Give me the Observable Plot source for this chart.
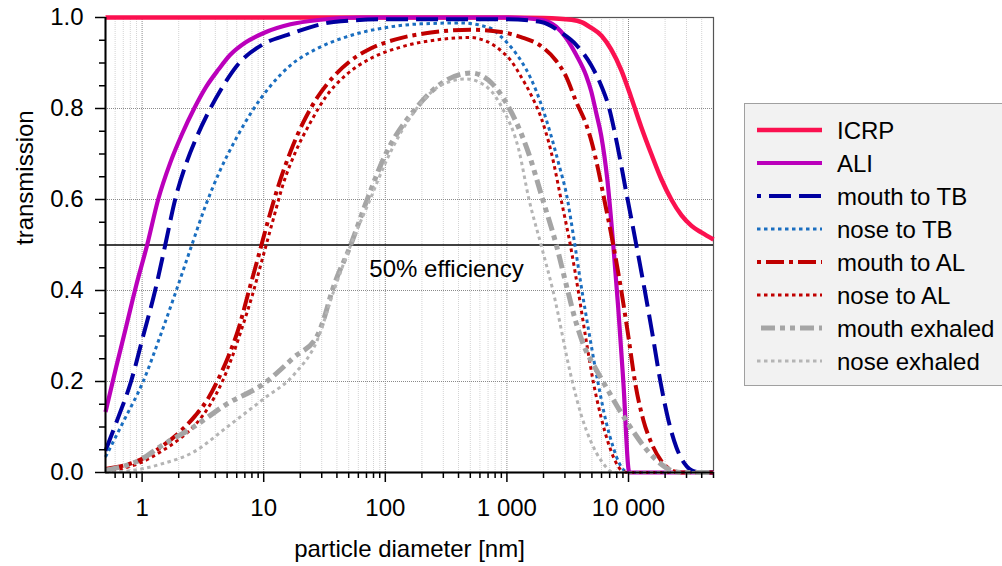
<!DOCTYPE html>
<html><head><meta charset="utf-8">
<script src="https://cdn.jsdelivr.net/npm/d3@7"></script>
<script src="https://cdn.jsdelivr.net/npm/@observablehq/plot@0.6"></script>
<style>
html,body{margin:0;padding:0;background:#fff;overflow:hidden;}
#wrap{position:relative;width:1002px;height:566px;font-family:"Liberation Sans",Arial,sans-serif;}
#legend{position:absolute;left:744px;top:103px;width:290px;height:283px;background:#f2f2f2;border:1px solid #a0a0a0;box-sizing:border-box;}
</style></head><body><div id="wrap"><div id="legend"></div></div>
<script>
// ---- data ----
const xDomain = [0.5, 50000];
const yDomain = [0, 1];
const xTickValues = [1, 10, 100, 1000, 10000];
const xTickLabels = ["1", "10", "100", "1 000", "10 000"];
const xMinorTicks = [0.6, 0.7, 0.8, 0.9, 2, 3, 4, 5, 6, 7, 8, 9, 20, 30, 40, 50, 60, 70, 80, 90,
  200, 300, 400, 500, 600, 700, 800, 900, 2000, 3000, 4000, 5000, 6000, 7000, 8000, 9000,
  20000, 30000, 40000, 50000];
const yTickValues = [0, 0.2, 0.4, 0.6, 0.8, 1.0];
const yTickLabels = ["0.0", "0.2", "0.4", "0.6", "0.8", "1.0"];
const yMinorTicks = [0.05, 0.1, 0.15, 0.25, 0.3, 0.35, 0.45, 0.5, 0.55, 0.65, 0.7, 0.75, 0.85, 0.9, 0.95];
const yGridValues = [0.2, 0.4, 0.6, 0.8];
const efficiencyLevel = [0.5];
const efficiencyLabel = "50% efficiency";
const xTitle = "particle diameter [nm]";
const yTitle = "transmission";

const seriesNames = ["ICRP", "ALI", "mouth to TB", "nose to TB", "mouth to AL", "nose to AL", "mouth exhaled", "nose exhaled"];

const icrpD = [0.5, 100, 1000, 2000, 3400, 4100, 4900, 6000, 7200, 8700, 10500, 12700, 15400, 18600, 22500, 27300, 33000, 40000, 50000];
const icrpT = [1, 1, 1, 0.999, 0.995, 0.99, 0.978, 0.96, 0.93, 0.885, 0.825, 0.76, 0.70, 0.645, 0.60, 0.565, 0.542, 0.527, 0.512];

const aliD = [0.5, 0.61, 0.738, 0.892, 1.1, 1.355, 1.7, 2.14, 2.68, 3.37, 4.23, 5.31, 7.07, 10, 16.6, 29.3, 62.7, 100, 1000,
  1910, 2540, 3070, 3712, 4488, 4935, 5428, 5968, 6688, 7494, 8241, 9064, 10153, 50000];
const aliT = [0.133, 0.23, 0.32, 0.41, 0.5, 0.6, 0.68, 0.745, 0.8, 0.848, 0.885, 0.918, 0.945, 0.966, 0.985, 0.995, 1, 1, 1,
  0.995, 0.98, 0.955, 0.918, 0.872, 0.838, 0.79, 0.74, 0.645, 0.5, 0.36, 0.2, 0, 0];

const mouthTBD = [0.5, 0.634, 0.811, 1.02, 1.28, 1.55, 1.87, 2.31, 2.84, 3.64, 4.65, 6.07, 10, 15.7, 37.5, 100, 1000,
  1910, 2790, 3712, 4935, 5968, 6945, 8084, 9593, 11596, 13500, 15715, 18290, 21290, 24780, 28850, 34210, 39830, 50000];
const mouthTBT = [0.048, 0.12, 0.2, 0.3, 0.4, 0.5, 0.6, 0.68, 0.74, 0.8, 0.85, 0.895, 0.942, 0.962, 0.99, 0.996, 0.996,
  0.99, 0.967, 0.94, 0.895, 0.85, 0.8, 0.72, 0.615, 0.5, 0.405, 0.305, 0.2, 0.115, 0.055, 0.02, 0.003, 0, 0];

const noseTBD = [0.5, 0.711, 1.02, 1.41, 1.91, 2.49, 3.31, 4.40, 5.96, 8.07, 11.4, 16.6, 26.7, 47.2, 91.7, 196, 418,
  739, 894, 1081, 1307, 1580, 1910, 2310, 2689, 3070, 3574, 4083, 4752, 5636, 6561, 7494, 8400, 9410, 10546, 50000];
const noseTBT = [0.034, 0.115, 0.2, 0.3, 0.4, 0.49, 0.585, 0.665, 0.735, 0.795, 0.85, 0.895, 0.93, 0.957, 0.976, 0.986, 0.988,
  0.976, 0.958, 0.935, 0.905, 0.865, 0.81, 0.74, 0.675, 0.615, 0.51, 0.41, 0.305, 0.195, 0.11, 0.055, 0.02, 0.003, 0, 0];

const mouthALD = [0.5, 1, 1.41, 2.06, 2.74, 3.44, 4.23, 5.12, 6.19, 7.48, 9.04, 10.9, 13.2, 16.6, 21.2, 28.2, 37.5, 51.9, 75.8, 122, 237, 506,
  894, 1307, 1910, 2540, 3070, 3712, 4488, 4935, 5637, 6318, 7494, 8722, 9961, 11380, 13250, 15417, 18640, 23400, 27250, 50000];
const mouthALT = [0.008, 0.03, 0.055, 0.09, 0.125, 0.16, 0.205, 0.255, 0.315, 0.395, 0.475, 0.555, 0.63, 0.705, 0.77, 0.828, 0.87, 0.905, 0.932, 0.952, 0.967, 0.973,
  0.968, 0.957, 0.937, 0.905, 0.87, 0.815, 0.765, 0.73, 0.665, 0.6, 0.5, 0.4, 0.3, 0.195, 0.115, 0.065, 0.025, 0.003, 0, 0];

const noseALD = [0.5, 1, 1.41, 2.06, 2.74, 3.64, 4.57, 5.52, 6.68, 8.07, 9.76, 11.8, 14.5, 18.3, 24.3, 32.3, 47.2, 75.8, 134, 286, 506,
  612, 739, 894, 1081, 1307, 1580, 1910, 2310, 2790, 3377, 3856, 4488, 5126, 5968, 6817, 7785, 8722, 9775, 50000];
const noseALT = [0.002, 0.023, 0.045, 0.075, 0.105, 0.15, 0.2, 0.255, 0.32, 0.39, 0.47, 0.55, 0.635, 0.705, 0.77, 0.825, 0.873, 0.91, 0.935, 0.952, 0.956,
  0.952, 0.943, 0.927, 0.905, 0.87, 0.83, 0.78, 0.705, 0.6, 0.49, 0.4, 0.29, 0.2, 0.12, 0.065, 0.025, 0.005, 0, 0];

const mouthExD = [0.5, 1, 1.41, 2.65, 5, 10, 17.7, 27.5, 31, 36.6, 51.9, 71, 98, 178, 285, 507, 740, 1048, 1480, 1970, 2550, 3160, 3700, 4350, 5200, 6160, 9940, 15200, 20000, 24000, 28000, 50000];
const mouthExT = [0.005, 0.03, 0.057, 0.1, 0.151, 0.195, 0.253, 0.3, 0.335, 0.4, 0.5, 0.6, 0.693, 0.8, 0.854, 0.878, 0.857, 0.8, 0.708, 0.6, 0.5, 0.4, 0.33, 0.275, 0.235, 0.2, 0.107, 0.04, 0.012, 0.002, 0, 0];

const noseExD = [0.5, 1, 1.41, 2.65, 5, 10, 17.7, 27.5, 37.8, 52, 75, 100, 181, 286, 460, 700, 920, 1250, 1520, 1910, 2390, 3450, 4100, 4960, 6000, 7600, 50000];
const noseExT = [0, 0.008, 0.018, 0.045, 0.1, 0.162, 0.215, 0.29, 0.4, 0.5, 0.6, 0.68, 0.8, 0.851, 0.865, 0.845, 0.8, 0.71, 0.6, 0.5, 0.4, 0.2, 0.125, 0.065, 0.025, 0, 0];

const seriesD = [icrpD, aliD, mouthTBD, noseTBD, mouthALD, noseALD, mouthExD, noseExD];
const seriesT = [icrpT, aliT, mouthTBT, noseTBT, mouthALT, noseALT, mouthExT, noseExT];

// ---- styles ----
const styles = {
  "ICRP": {stroke: "#fb1150", width: 4.5, dash: null, legendOffset: 0},
  "ALI": {stroke: "#bb00bb", width: 4.2, dash: null, legendOffset: 0},
  "mouth to TB": {stroke: "#0000a0", width: 4, dash: "22,8", legendOffset: 18},
  "nose to TB": {stroke: "#1a6ec0", width: 3, dash: "3.5,3.5", legendOffset: 0},
  "mouth to AL": {stroke: "#c00000", width: 4, dash: "18,5,4,5", legendOffset: 23},
  "nose to AL": {stroke: "#c00000", width: 3, dash: "3.5,3.5", legendOffset: 0},
  "mouth exhaled": {stroke: "#a5a5a5", width: 5, dash: "14,5,5,5,5,5", legendOffset: -4},
  "nose exhaled": {stroke: "#b5b5b5", width: 3, dash: "3.5,3.5", legendOffset: 0}
};
const FONT = "'Liberation Sans', Arial, Helvetica, sans-serif";

const lineMarks = seriesNames.map((name, i) => {
  const rows = seriesD[i].map((d, j) => ({series: name, d, t: seriesT[i][j]}));
  const s = styles[name];
  const opts = {x: "d", y: "t", stroke: s.stroke, strokeWidth: s.width, curve: "monotone-x",
    strokeLinecap: "butt", strokeLinejoin: "round"};
  if (s.dash) opts.strokeDasharray = s.dash;
  return Plot.line(rows, opts);
});

const chart = Plot.plot({
  width: 1002,
  height: 566,
  marginLeft: 105,
  marginRight: 289,
  marginTop: 17,
  marginBottom: 94,
  x: {type: "log", domain: xDomain},
  y: {domain: yDomain},
  style: {fontFamily: FONT, fontSize: "24px", color: "#000", background: "transparent", overflow: "visible"},
  marks: [
    Plot.ruleX(xMinorTicks, {x: d => d, stroke: "#d4d4d4", strokeWidth: 1, strokeDasharray: "1,1"}),
    Plot.ruleX(xTickValues, {x: d => d, stroke: "#8a8a8a", strokeWidth: 1, strokeDasharray: "1,1"}),
    Plot.ruleY(yGridValues, {y: d => d, stroke: "#8a8a8a", strokeWidth: 1, strokeDasharray: "1,1"}),
    Plot.frame({stroke: "#555", strokeWidth: 1.2}),
    Plot.ruleY(efficiencyLevel, {y: d => d, stroke: "#000", strokeWidth: 1.5}),
    Plot.text(efficiencyLevel, {y: d => d, text: () => efficiencyLabel, frameAnchor: "middle",
      dx: 37, dy: 32, lineAnchor: "bottom", fontSize: 24, fill: "#000"}),
    ...lineMarks,
    Plot.ruleX([xDomain[0]], {x: d => d, stroke: "#000", strokeWidth: 2}),
    Plot.ruleY([yDomain[0]], {y: d => d, stroke: "#000", strokeWidth: 2}),
    Plot.axisX({ticks: xTickValues, tickFormat: d => xTickLabels[xTickValues.indexOf(d)],
      tickSize: 10, tickPadding: 16, fontSize: 24, strokeWidth: 1.5, label: null}),
    Plot.axisX({ticks: xMinorTicks, tickFormat: () => "", tickSize: 6, strokeWidth: 1.5, label: null}),
    Plot.axisY({ticks: yTickValues, tickFormat: d => yTickLabels[yTickValues.indexOf(d)],
      tickSize: 10, tickPadding: 12, fontSize: 24, strokeWidth: 1.5, label: null}),
    Plot.axisY({ticks: yMinorTicks, tickFormat: () => "", tickSize: 6, strokeWidth: 1.5, label: null}),
    Plot.text([xTitle], {text: d => d, frameAnchor: "bottom", dy: 84, lineAnchor: "bottom", fontSize: 24, fill: "#000"}),
    Plot.text([yTitle], {text: d => d, frameAnchor: "left", rotate: -90, dx: -73, lineAnchor: "bottom", fontSize: 24, fill: "#000"})
  ]
});
chart.style.position = "absolute";
chart.style.left = "0px";
chart.style.top = "0px";
const wrap = document.getElementById("wrap");
wrap.insertBefore(chart, wrap.firstChild);

// ---- legend ----
const lg = d3.select("#legend").append("svg")
  .attr("width", 290).attr("height", 283)
  .style("position", "absolute").style("left", "-1px").style("top", "-1px");
seriesNames.forEach((name, i) => {
  const s = styles[name];
  const cy = 27 + i * 33;
  const ln = lg.append("line")
    .attr("x1", 13).attr("x2", 78).attr("y1", cy).attr("y2", cy)
    .attr("stroke", s.stroke).attr("stroke-width", s.width);
  if (s.dash) ln.attr("stroke-dasharray", s.dash).attr("stroke-dashoffset", s.legendOffset);
  lg.append("text").attr("x", 93).attr("y", cy + 8.5)
    .attr("font-family", FONT).attr("font-size", 24).attr("fill", "#000")
    .text(name);
});
</script>
</body></html>
